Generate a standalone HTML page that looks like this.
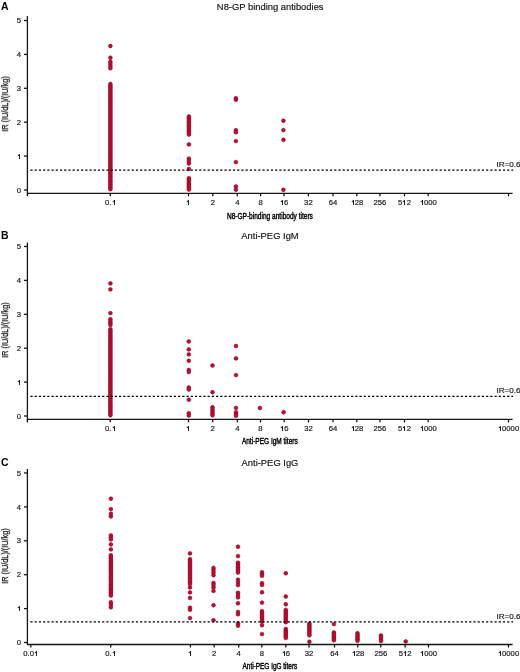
<!DOCTYPE html>
<html><head><meta charset="utf-8"><style>
text{will-change:transform}
html,body{margin:0;padding:0;background:#fff;width:520px;height:672px;overflow:hidden;position:relative}
</style></head><body>
<svg width="520" height="672" viewBox="0 0 520 672" style="position:absolute;left:0;top:0">
<text x="0.9" y="9.6" font-family='"Liberation Sans", sans-serif' font-weight="bold" font-size="10.5" fill="#000">A</text>
<text x="270.2" y="9.8" text-anchor="middle" font-family='"Liberation Sans", sans-serif' font-size="9.4" fill="#111" stroke="#111" stroke-width="0.15">N8-GP binding antibodies</text>
<g fill="#bd0f33" stroke="#860a24" stroke-width="0.5">
<circle cx="110.4" cy="46" r="1.95"/>
<circle cx="110.4" cy="57.7" r="1.95"/>
<circle cx="110.4" cy="61.8" r="1.95"/>
<circle cx="110.4" cy="63.8" r="1.95"/>
<circle cx="110.4" cy="66" r="1.95"/>
<circle cx="110.4" cy="68.2" r="1.95"/>
<circle cx="110.4" cy="84" r="1.95"/>
<circle cx="110.4" cy="85.59" r="1.95"/>
<circle cx="110.4" cy="87.19" r="1.95"/>
<circle cx="110.4" cy="88.78" r="1.95"/>
<circle cx="110.4" cy="90.38" r="1.95"/>
<circle cx="110.4" cy="91.97" r="1.95"/>
<circle cx="110.4" cy="93.56" r="1.95"/>
<circle cx="110.4" cy="95.16" r="1.95"/>
<circle cx="110.4" cy="96.75" r="1.95"/>
<circle cx="110.4" cy="98.35" r="1.95"/>
<circle cx="110.4" cy="99.94" r="1.95"/>
<circle cx="110.4" cy="101.53" r="1.95"/>
<circle cx="110.4" cy="103.13" r="1.95"/>
<circle cx="110.4" cy="104.72" r="1.95"/>
<circle cx="110.4" cy="106.32" r="1.95"/>
<circle cx="110.4" cy="107.91" r="1.95"/>
<circle cx="110.4" cy="109.5" r="1.95"/>
<circle cx="110.4" cy="111.1" r="1.95"/>
<circle cx="110.4" cy="112.69" r="1.95"/>
<circle cx="110.4" cy="114.28" r="1.95"/>
<circle cx="110.4" cy="115.88" r="1.95"/>
<circle cx="110.4" cy="117.47" r="1.95"/>
<circle cx="110.4" cy="119.07" r="1.95"/>
<circle cx="110.4" cy="120.66" r="1.95"/>
<circle cx="110.4" cy="122.25" r="1.95"/>
<circle cx="110.4" cy="123.85" r="1.95"/>
<circle cx="110.4" cy="125.44" r="1.95"/>
<circle cx="110.4" cy="127.04" r="1.95"/>
<circle cx="110.4" cy="128.63" r="1.95"/>
<circle cx="110.4" cy="130.22" r="1.95"/>
<circle cx="110.4" cy="131.82" r="1.95"/>
<circle cx="110.4" cy="133.41" r="1.95"/>
<circle cx="110.4" cy="135.01" r="1.95"/>
<circle cx="110.4" cy="136.6" r="1.95"/>
<circle cx="110.4" cy="138.19" r="1.95"/>
<circle cx="110.4" cy="139.79" r="1.95"/>
<circle cx="110.4" cy="141.38" r="1.95"/>
<circle cx="110.4" cy="142.98" r="1.95"/>
<circle cx="110.4" cy="144.57" r="1.95"/>
<circle cx="110.4" cy="146.16" r="1.95"/>
<circle cx="110.4" cy="147.76" r="1.95"/>
<circle cx="110.4" cy="149.35" r="1.95"/>
<circle cx="110.4" cy="150.95" r="1.95"/>
<circle cx="110.4" cy="152.54" r="1.95"/>
<circle cx="110.4" cy="154.13" r="1.95"/>
<circle cx="110.4" cy="155.73" r="1.95"/>
<circle cx="110.4" cy="157.32" r="1.95"/>
<circle cx="110.4" cy="158.92" r="1.95"/>
<circle cx="110.4" cy="160.51" r="1.95"/>
<circle cx="110.4" cy="162.1" r="1.95"/>
<circle cx="110.4" cy="163.7" r="1.95"/>
<circle cx="110.4" cy="165.29" r="1.95"/>
<circle cx="110.4" cy="166.88" r="1.95"/>
<circle cx="110.4" cy="168.48" r="1.95"/>
<circle cx="110.4" cy="170.07" r="1.95"/>
<circle cx="110.4" cy="171.67" r="1.95"/>
<circle cx="110.4" cy="173.26" r="1.95"/>
<circle cx="110.4" cy="174.85" r="1.95"/>
<circle cx="110.4" cy="176.45" r="1.95"/>
<circle cx="110.4" cy="178.04" r="1.95"/>
<circle cx="110.4" cy="179.64" r="1.95"/>
<circle cx="110.4" cy="181.23" r="1.95"/>
<circle cx="110.4" cy="182.82" r="1.95"/>
<circle cx="110.4" cy="184.42" r="1.95"/>
<circle cx="110.4" cy="186.01" r="1.95"/>
<circle cx="110.4" cy="187.61" r="1.95"/>
<circle cx="110.4" cy="189.2" r="1.95"/>
<circle cx="188.9" cy="116.5" r="1.95"/>
<circle cx="188.9" cy="118.15" r="1.95"/>
<circle cx="188.9" cy="119.79" r="1.95"/>
<circle cx="188.9" cy="121.44" r="1.95"/>
<circle cx="188.9" cy="123.08" r="1.95"/>
<circle cx="188.9" cy="124.73" r="1.95"/>
<circle cx="188.9" cy="126.37" r="1.95"/>
<circle cx="188.9" cy="128.02" r="1.95"/>
<circle cx="188.9" cy="129.66" r="1.95"/>
<circle cx="188.9" cy="131.31" r="1.95"/>
<circle cx="188.9" cy="132.95" r="1.95"/>
<circle cx="188.9" cy="134.6" r="1.95"/>
<circle cx="188.9" cy="144.4" r="1.95"/>
<circle cx="188.9" cy="158.6" r="1.95"/>
<circle cx="188.9" cy="161" r="1.95"/>
<circle cx="188.9" cy="163.5" r="1.95"/>
<circle cx="188.9" cy="169" r="1.95"/>
<circle cx="188.9" cy="178.3" r="1.95"/>
<circle cx="188.9" cy="179.91" r="1.95"/>
<circle cx="188.9" cy="181.53" r="1.95"/>
<circle cx="188.9" cy="183.14" r="1.95"/>
<circle cx="188.9" cy="184.76" r="1.95"/>
<circle cx="188.9" cy="186.37" r="1.95"/>
<circle cx="188.9" cy="187.99" r="1.95"/>
<circle cx="188.9" cy="189.6" r="1.95"/>
<circle cx="235.9" cy="98.2" r="1.95"/>
<circle cx="235.9" cy="99.8" r="1.95"/>
<circle cx="235.9" cy="130.2" r="1.95"/>
<circle cx="235.9" cy="132.2" r="1.95"/>
<circle cx="235.9" cy="141.1" r="1.95"/>
<circle cx="235.9" cy="162.1" r="1.95"/>
<circle cx="235.9" cy="186.5" r="1.95"/>
<circle cx="235.9" cy="189.7" r="1.95"/>
<circle cx="283.4" cy="120.7" r="1.95"/>
<circle cx="283.4" cy="130.1" r="1.95"/>
<circle cx="283.4" cy="139.8" r="1.95"/>
<circle cx="283.4" cy="189.8" r="1.95"/>
</g>
<g stroke="#151515" stroke-width="1.3" fill="none">
<line x1="27.4" y1="16" x2="27.4" y2="193.9"/>
<line x1="27.4" y1="193.3" x2="512.6" y2="193.3"/>
<line x1="24" y1="190" x2="27.4" y2="190"/>
<line x1="24" y1="156.1" x2="27.4" y2="156.1"/>
<line x1="24" y1="122.2" x2="27.4" y2="122.2"/>
<line x1="24" y1="88.3" x2="27.4" y2="88.3"/>
<line x1="24" y1="54.4" x2="27.4" y2="54.4"/>
<line x1="24" y1="20.5" x2="27.4" y2="20.5"/>
<line x1="110.3" y1="193.3" x2="110.3" y2="196.3"/>
<line x1="188.5" y1="193.3" x2="188.5" y2="196.3"/>
<line x1="212.8" y1="193.3" x2="212.8" y2="196.3"/>
<line x1="237.3" y1="193.3" x2="237.3" y2="196.3"/>
<line x1="260.6" y1="193.3" x2="260.6" y2="196.3"/>
<line x1="284.0" y1="193.3" x2="284.0" y2="196.3"/>
<line x1="308.4" y1="193.3" x2="308.4" y2="196.3"/>
<line x1="333.0" y1="193.3" x2="333.0" y2="196.3"/>
<line x1="356.8" y1="193.3" x2="356.8" y2="196.3"/>
<line x1="379.9" y1="193.3" x2="379.9" y2="196.3"/>
<line x1="404.5" y1="193.3" x2="404.5" y2="196.3"/>
<line x1="428.2" y1="193.3" x2="428.2" y2="196.3"/>
<line x1="508.5" y1="193.3" x2="508.5" y2="196.3"/>
<line x1="27.4" y1="193.3" x2="27.4" y2="196.3"/>
</g>
<line x1="30.4" y1="170.15" x2="513.2" y2="170.15" stroke="#000" stroke-width="1.35" stroke-dasharray="2.2 2.019"/>
<text x="496.5" y="166.85" font-family='"Liberation Sans", sans-serif' font-size="8.1" fill="#222" stroke="#222" stroke-width="0.2">IR=0.6</text>
<text x="16.82" y="192.60" font-family='"Liberation Sans", sans-serif' font-size="7.7" fill="#222" stroke="#222" stroke-width="0.2">0</text>
<text x="16.82" y="158.70" font-family='"Liberation Sans", sans-serif' font-size="7.7" fill="#222" stroke="#222" stroke-width="0.2"> </text>
<path d="M19.50 154V159M19.80 154.40L17.80 155.90" fill="none" stroke="#222" stroke-width="1.05"/>
<text x="16.82" y="124.80" font-family='"Liberation Sans", sans-serif' font-size="7.7" fill="#222" stroke="#222" stroke-width="0.2">2</text>
<text x="16.82" y="90.90" font-family='"Liberation Sans", sans-serif' font-size="7.7" fill="#222" stroke="#222" stroke-width="0.2">3</text>
<text x="16.82" y="57.00" font-family='"Liberation Sans", sans-serif' font-size="7.7" fill="#222" stroke="#222" stroke-width="0.2">4</text>
<text x="16.82" y="23.10" font-family='"Liberation Sans", sans-serif' font-size="7.7" fill="#222" stroke="#222" stroke-width="0.2">5</text>
<text x="104.95" y="205.10" font-family='"Liberation Sans", sans-serif' font-size="7.7" fill="#222" stroke="#222" stroke-width="0.2">0. </text>
<path d="M114.50 200V205M114.80 200.40L112.80 201.90" fill="none" stroke="#222" stroke-width="1.05"/>
<text x="186.36" y="205.10" font-family='"Liberation Sans", sans-serif' font-size="7.7" fill="#222" stroke="#222" stroke-width="0.2"> </text>
<path d="M188.50 200V205M188.80 200.40L186.80 201.90" fill="none" stroke="#222" stroke-width="1.05"/>
<text x="210.66" y="205.10" font-family='"Liberation Sans", sans-serif' font-size="7.7" fill="#222" stroke="#222" stroke-width="0.2">2</text>
<text x="235.16" y="205.10" font-family='"Liberation Sans", sans-serif' font-size="7.7" fill="#222" stroke="#222" stroke-width="0.2">4</text>
<text x="258.46" y="205.10" font-family='"Liberation Sans", sans-serif' font-size="7.7" fill="#222" stroke="#222" stroke-width="0.2">8</text>
<text x="279.72" y="205.10" font-family='"Liberation Sans", sans-serif' font-size="7.7" fill="#222" stroke="#222" stroke-width="0.2"> 6</text>
<path d="M282.50 200V205M282.80 200.40L280.80 201.90" fill="none" stroke="#222" stroke-width="1.05"/>
<text x="304.12" y="205.10" font-family='"Liberation Sans", sans-serif' font-size="7.7" fill="#222" stroke="#222" stroke-width="0.2">32</text>
<text x="328.72" y="205.10" font-family='"Liberation Sans", sans-serif' font-size="7.7" fill="#222" stroke="#222" stroke-width="0.2">64</text>
<text x="350.38" y="205.10" font-family='"Liberation Sans", sans-serif' font-size="7.7" fill="#222" stroke="#222" stroke-width="0.2"> 28</text>
<path d="M353.50 200V205M353.80 200.40L351.80 201.90" fill="none" stroke="#222" stroke-width="1.05"/>
<text x="373.48" y="205.10" font-family='"Liberation Sans", sans-serif' font-size="7.7" fill="#222" stroke="#222" stroke-width="0.2">256</text>
<text x="398.08" y="205.10" font-family='"Liberation Sans", sans-serif' font-size="7.7" fill="#222" stroke="#222" stroke-width="0.2">5 2</text>
<path d="M404.50 200V205M404.80 200.40L402.80 201.90" fill="none" stroke="#222" stroke-width="1.05"/>
<text x="419.64" y="205.10" font-family='"Liberation Sans", sans-serif' font-size="7.7" fill="#222" stroke="#222" stroke-width="0.2"> 000</text>
<path d="M422.50 200V205M422.80 200.40L420.80 201.90" fill="none" stroke="#222" stroke-width="1.05"/>
<text x="269.9" y="218.6" text-anchor="middle" font-family='"Liberation Sans", sans-serif' font-size="9.5" font-weight="normal" fill="#000" stroke="#000" stroke-width="0.45" textLength="85.99999999999997" lengthAdjust="spacingAndGlyphs">N8-GP-binding antibody titers</text>
<text x="0" y="0" transform="translate(8.0 103.85) rotate(-90)" text-anchor="middle" font-family='"Liberation Sans", sans-serif' font-size="9" font-weight="normal" fill="#111" stroke="#111" stroke-width="0.25" textLength="55.5" lengthAdjust="spacingAndGlyphs">IR (IU/dL)/(IU/kg)</text>
<text x="0.9" y="239.3" font-family='"Liberation Sans", sans-serif' font-weight="bold" font-size="10.5" fill="#000">B</text>
<text x="270.0" y="239.1" text-anchor="middle" font-family='"Liberation Sans", sans-serif' font-size="9.4" fill="#111" stroke="#111" stroke-width="0.15">Anti-PEG IgM</text>
<g fill="#bd0f33" stroke="#860a24" stroke-width="0.5">
<circle cx="110.4" cy="283.4" r="1.95"/>
<circle cx="110.4" cy="289.4" r="1.95"/>
<circle cx="110.4" cy="313.1" r="1.95"/>
<circle cx="110.4" cy="319.2" r="1.95"/>
<circle cx="110.4" cy="321.2" r="1.95"/>
<circle cx="110.4" cy="323.2" r="1.95"/>
<circle cx="110.4" cy="325" r="1.95"/>
<circle cx="110.4" cy="329.3" r="1.95"/>
<circle cx="110.4" cy="330.89" r="1.95"/>
<circle cx="110.4" cy="332.49" r="1.95"/>
<circle cx="110.4" cy="334.08" r="1.95"/>
<circle cx="110.4" cy="335.67" r="1.95"/>
<circle cx="110.4" cy="337.26" r="1.95"/>
<circle cx="110.4" cy="338.86" r="1.95"/>
<circle cx="110.4" cy="340.45" r="1.95"/>
<circle cx="110.4" cy="342.04" r="1.95"/>
<circle cx="110.4" cy="343.63" r="1.95"/>
<circle cx="110.4" cy="345.23" r="1.95"/>
<circle cx="110.4" cy="346.82" r="1.95"/>
<circle cx="110.4" cy="348.41" r="1.95"/>
<circle cx="110.4" cy="350" r="1.95"/>
<circle cx="110.4" cy="351.6" r="1.95"/>
<circle cx="110.4" cy="353.19" r="1.95"/>
<circle cx="110.4" cy="354.78" r="1.95"/>
<circle cx="110.4" cy="356.37" r="1.95"/>
<circle cx="110.4" cy="357.97" r="1.95"/>
<circle cx="110.4" cy="359.56" r="1.95"/>
<circle cx="110.4" cy="361.15" r="1.95"/>
<circle cx="110.4" cy="362.74" r="1.95"/>
<circle cx="110.4" cy="364.34" r="1.95"/>
<circle cx="110.4" cy="365.93" r="1.95"/>
<circle cx="110.4" cy="367.52" r="1.95"/>
<circle cx="110.4" cy="369.11" r="1.95"/>
<circle cx="110.4" cy="370.71" r="1.95"/>
<circle cx="110.4" cy="372.3" r="1.95"/>
<circle cx="110.4" cy="373.89" r="1.95"/>
<circle cx="110.4" cy="375.49" r="1.95"/>
<circle cx="110.4" cy="377.08" r="1.95"/>
<circle cx="110.4" cy="378.67" r="1.95"/>
<circle cx="110.4" cy="380.26" r="1.95"/>
<circle cx="110.4" cy="381.86" r="1.95"/>
<circle cx="110.4" cy="383.45" r="1.95"/>
<circle cx="110.4" cy="385.04" r="1.95"/>
<circle cx="110.4" cy="386.63" r="1.95"/>
<circle cx="110.4" cy="388.23" r="1.95"/>
<circle cx="110.4" cy="389.82" r="1.95"/>
<circle cx="110.4" cy="391.41" r="1.95"/>
<circle cx="110.4" cy="393" r="1.95"/>
<circle cx="110.4" cy="394.6" r="1.95"/>
<circle cx="110.4" cy="396.19" r="1.95"/>
<circle cx="110.4" cy="397.78" r="1.95"/>
<circle cx="110.4" cy="399.37" r="1.95"/>
<circle cx="110.4" cy="400.97" r="1.95"/>
<circle cx="110.4" cy="402.56" r="1.95"/>
<circle cx="110.4" cy="404.15" r="1.95"/>
<circle cx="110.4" cy="405.74" r="1.95"/>
<circle cx="110.4" cy="407.34" r="1.95"/>
<circle cx="110.4" cy="408.93" r="1.95"/>
<circle cx="110.4" cy="410.52" r="1.95"/>
<circle cx="110.4" cy="412.11" r="1.95"/>
<circle cx="110.4" cy="413.71" r="1.95"/>
<circle cx="110.4" cy="415.3" r="1.95"/>
<circle cx="188.8" cy="341.5" r="1.95"/>
<circle cx="188.8" cy="349.4" r="1.95"/>
<circle cx="188.8" cy="354.4" r="1.95"/>
<circle cx="188.8" cy="360.8" r="1.95"/>
<circle cx="188.8" cy="370" r="1.95"/>
<circle cx="188.8" cy="372" r="1.95"/>
<circle cx="188.8" cy="387.5" r="1.95"/>
<circle cx="188.8" cy="389.5" r="1.95"/>
<circle cx="188.8" cy="399.7" r="1.95"/>
<circle cx="188.8" cy="413.3" r="1.95"/>
<circle cx="188.8" cy="415.5" r="1.95"/>
<circle cx="212.5" cy="365.5" r="1.95"/>
<circle cx="212.5" cy="392.2" r="1.95"/>
<circle cx="212.5" cy="407.3" r="1.95"/>
<circle cx="212.5" cy="409.5" r="1.95"/>
<circle cx="212.5" cy="411.5" r="1.95"/>
<circle cx="212.5" cy="413.5" r="1.95"/>
<circle cx="212.5" cy="415.3" r="1.95"/>
<circle cx="236" cy="346" r="1.95"/>
<circle cx="236" cy="358.4" r="1.95"/>
<circle cx="236" cy="375.1" r="1.95"/>
<circle cx="236" cy="407.9" r="1.95"/>
<circle cx="236" cy="412.3" r="1.95"/>
<circle cx="236" cy="414" r="1.95"/>
<circle cx="236" cy="415.7" r="1.95"/>
<circle cx="259.9" cy="408" r="1.95"/>
<circle cx="283.6" cy="412.3" r="1.95"/>
</g>
<g stroke="#151515" stroke-width="1.3" fill="none">
<line x1="27.4" y1="242.5" x2="27.4" y2="419.95000000000005"/>
<line x1="27.4" y1="419.35" x2="512.6" y2="419.35"/>
<line x1="24" y1="416" x2="27.4" y2="416"/>
<line x1="24" y1="382.1" x2="27.4" y2="382.1"/>
<line x1="24" y1="348.2" x2="27.4" y2="348.2"/>
<line x1="24" y1="314.3" x2="27.4" y2="314.3"/>
<line x1="24" y1="280.4" x2="27.4" y2="280.4"/>
<line x1="24" y1="246.5" x2="27.4" y2="246.5"/>
<line x1="110.3" y1="419.35" x2="110.3" y2="422.35"/>
<line x1="188.5" y1="419.35" x2="188.5" y2="422.35"/>
<line x1="212.7" y1="419.35" x2="212.7" y2="422.35"/>
<line x1="237.4" y1="419.35" x2="237.4" y2="422.35"/>
<line x1="260.5" y1="419.35" x2="260.5" y2="422.35"/>
<line x1="284.2" y1="419.35" x2="284.2" y2="422.35"/>
<line x1="308.5" y1="419.35" x2="308.5" y2="422.35"/>
<line x1="333.0" y1="419.35" x2="333.0" y2="422.35"/>
<line x1="356.8" y1="419.35" x2="356.8" y2="422.35"/>
<line x1="379.9" y1="419.35" x2="379.9" y2="422.35"/>
<line x1="404.5" y1="419.35" x2="404.5" y2="422.35"/>
<line x1="428.2" y1="419.35" x2="428.2" y2="422.35"/>
<line x1="508.5" y1="419.35" x2="508.5" y2="422.35"/>
<line x1="27.4" y1="419.35" x2="27.4" y2="422.35"/>
</g>
<line x1="30.4" y1="396.4" x2="513.2" y2="396.4" stroke="#000" stroke-width="1.35" stroke-dasharray="2.2 2.019"/>
<text x="496.5" y="393.09999999999997" font-family='"Liberation Sans", sans-serif' font-size="8.1" fill="#222" stroke="#222" stroke-width="0.2">IR=0.6</text>
<text x="16.82" y="418.60" font-family='"Liberation Sans", sans-serif' font-size="7.7" fill="#222" stroke="#222" stroke-width="0.2">0</text>
<text x="16.82" y="384.70" font-family='"Liberation Sans", sans-serif' font-size="7.7" fill="#222" stroke="#222" stroke-width="0.2"> </text>
<path d="M19.50 380V385M19.80 380.40L17.80 381.90" fill="none" stroke="#222" stroke-width="1.05"/>
<text x="16.82" y="350.80" font-family='"Liberation Sans", sans-serif' font-size="7.7" fill="#222" stroke="#222" stroke-width="0.2">2</text>
<text x="16.82" y="316.90" font-family='"Liberation Sans", sans-serif' font-size="7.7" fill="#222" stroke="#222" stroke-width="0.2">3</text>
<text x="16.82" y="283.00" font-family='"Liberation Sans", sans-serif' font-size="7.7" fill="#222" stroke="#222" stroke-width="0.2">4</text>
<text x="16.82" y="249.10" font-family='"Liberation Sans", sans-serif' font-size="7.7" fill="#222" stroke="#222" stroke-width="0.2">5</text>
<text x="104.95" y="431.15" font-family='"Liberation Sans", sans-serif' font-size="7.7" fill="#222" stroke="#222" stroke-width="0.2">0. </text>
<path d="M114.50 426V431M114.80 426.40L112.80 427.90" fill="none" stroke="#222" stroke-width="1.05"/>
<text x="186.36" y="431.15" font-family='"Liberation Sans", sans-serif' font-size="7.7" fill="#222" stroke="#222" stroke-width="0.2"> </text>
<path d="M188.50 426V431M188.80 426.40L186.80 427.90" fill="none" stroke="#222" stroke-width="1.05"/>
<text x="210.56" y="431.15" font-family='"Liberation Sans", sans-serif' font-size="7.7" fill="#222" stroke="#222" stroke-width="0.2">2</text>
<text x="235.26" y="431.15" font-family='"Liberation Sans", sans-serif' font-size="7.7" fill="#222" stroke="#222" stroke-width="0.2">4</text>
<text x="258.36" y="431.15" font-family='"Liberation Sans", sans-serif' font-size="7.7" fill="#222" stroke="#222" stroke-width="0.2">8</text>
<text x="279.92" y="431.15" font-family='"Liberation Sans", sans-serif' font-size="7.7" fill="#222" stroke="#222" stroke-width="0.2"> 6</text>
<path d="M282.50 426V431M282.80 426.40L280.80 427.90" fill="none" stroke="#222" stroke-width="1.05"/>
<text x="304.22" y="431.15" font-family='"Liberation Sans", sans-serif' font-size="7.7" fill="#222" stroke="#222" stroke-width="0.2">32</text>
<text x="328.72" y="431.15" font-family='"Liberation Sans", sans-serif' font-size="7.7" fill="#222" stroke="#222" stroke-width="0.2">64</text>
<text x="350.38" y="431.15" font-family='"Liberation Sans", sans-serif' font-size="7.7" fill="#222" stroke="#222" stroke-width="0.2"> 28</text>
<path d="M353.50 426V431M353.80 426.40L351.80 427.90" fill="none" stroke="#222" stroke-width="1.05"/>
<text x="373.48" y="431.15" font-family='"Liberation Sans", sans-serif' font-size="7.7" fill="#222" stroke="#222" stroke-width="0.2">256</text>
<text x="398.08" y="431.15" font-family='"Liberation Sans", sans-serif' font-size="7.7" fill="#222" stroke="#222" stroke-width="0.2">5 2</text>
<path d="M404.50 426V431M404.80 426.40L402.80 427.90" fill="none" stroke="#222" stroke-width="1.05"/>
<text x="419.64" y="431.15" font-family='"Liberation Sans", sans-serif' font-size="7.7" fill="#222" stroke="#222" stroke-width="0.2"> 000</text>
<path d="M422.50 426V431M422.80 426.40L420.80 427.90" fill="none" stroke="#222" stroke-width="1.05"/>
<text x="497.79" y="431.15" font-family='"Liberation Sans", sans-serif' font-size="7.7" fill="#222" stroke="#222" stroke-width="0.2"> 0000</text>
<path d="M500.50 426V431M500.80 426.40L498.80 427.90" fill="none" stroke="#222" stroke-width="1.05"/>
<text x="269.8" y="444.3" text-anchor="middle" font-family='"Liberation Sans", sans-serif' font-size="9.5" font-weight="normal" fill="#000" stroke="#000" stroke-width="0.45" textLength="55.79999999999998" lengthAdjust="spacingAndGlyphs">Anti-PEG IgM titers</text>
<text x="0" y="0" transform="translate(8.0 330.12) rotate(-90)" text-anchor="middle" font-family='"Liberation Sans", sans-serif' font-size="9" font-weight="normal" fill="#111" stroke="#111" stroke-width="0.25" textLength="55.5" lengthAdjust="spacingAndGlyphs">IR (IU/dL)/(IU/kg)</text>
<text x="0.9" y="465.6" font-family='"Liberation Sans", sans-serif' font-weight="bold" font-size="10.5" fill="#000">C</text>
<text x="270.0" y="465.5" text-anchor="middle" font-family='"Liberation Sans", sans-serif' font-size="9.4" fill="#111" stroke="#111" stroke-width="0.15">Anti-PEG IgG</text>
<g fill="#bd0f33" stroke="#860a24" stroke-width="0.5">
<circle cx="110.9" cy="498.7" r="1.95"/>
<circle cx="110.9" cy="509.1" r="1.95"/>
<circle cx="110.9" cy="513.7" r="1.95"/>
<circle cx="110.9" cy="516.4" r="1.95"/>
<circle cx="110.9" cy="535.4" r="1.95"/>
<circle cx="110.9" cy="537.4" r="1.95"/>
<circle cx="110.9" cy="539.4" r="1.95"/>
<circle cx="110.9" cy="544.4" r="1.95"/>
<circle cx="110.9" cy="549.4" r="1.95"/>
<circle cx="110.9" cy="555.3" r="1.95"/>
<circle cx="110.9" cy="556.91" r="1.95"/>
<circle cx="110.9" cy="558.52" r="1.95"/>
<circle cx="110.9" cy="560.14" r="1.95"/>
<circle cx="110.9" cy="561.75" r="1.95"/>
<circle cx="110.9" cy="563.36" r="1.95"/>
<circle cx="110.9" cy="564.97" r="1.95"/>
<circle cx="110.9" cy="566.58" r="1.95"/>
<circle cx="110.9" cy="568.2" r="1.95"/>
<circle cx="110.9" cy="569.81" r="1.95"/>
<circle cx="110.9" cy="571.42" r="1.95"/>
<circle cx="110.9" cy="573.03" r="1.95"/>
<circle cx="110.9" cy="574.64" r="1.95"/>
<circle cx="110.9" cy="576.26" r="1.95"/>
<circle cx="110.9" cy="577.87" r="1.95"/>
<circle cx="110.9" cy="579.48" r="1.95"/>
<circle cx="110.9" cy="581.09" r="1.95"/>
<circle cx="110.9" cy="582.7" r="1.95"/>
<circle cx="110.9" cy="584.32" r="1.95"/>
<circle cx="110.9" cy="585.93" r="1.95"/>
<circle cx="110.9" cy="587.54" r="1.95"/>
<circle cx="110.9" cy="589.15" r="1.95"/>
<circle cx="110.9" cy="590.76" r="1.95"/>
<circle cx="110.9" cy="592.38" r="1.95"/>
<circle cx="110.9" cy="593.99" r="1.95"/>
<circle cx="110.9" cy="595.6" r="1.95"/>
<circle cx="110.9" cy="602.3" r="1.95"/>
<circle cx="110.9" cy="604.5" r="1.95"/>
<circle cx="110.9" cy="607.3" r="1.95"/>
<circle cx="190" cy="553.4" r="1.95"/>
<circle cx="190" cy="559.2" r="1.95"/>
<circle cx="190" cy="560.85" r="1.95"/>
<circle cx="190" cy="562.51" r="1.95"/>
<circle cx="190" cy="564.16" r="1.95"/>
<circle cx="190" cy="565.81" r="1.95"/>
<circle cx="190" cy="567.47" r="1.95"/>
<circle cx="190" cy="569.12" r="1.95"/>
<circle cx="190" cy="570.77" r="1.95"/>
<circle cx="190" cy="572.43" r="1.95"/>
<circle cx="190" cy="574.08" r="1.95"/>
<circle cx="190" cy="575.73" r="1.95"/>
<circle cx="190" cy="577.39" r="1.95"/>
<circle cx="190" cy="579.04" r="1.95"/>
<circle cx="190" cy="580.69" r="1.95"/>
<circle cx="190" cy="582.35" r="1.95"/>
<circle cx="190" cy="584" r="1.95"/>
<circle cx="190" cy="587.4" r="1.95"/>
<circle cx="190" cy="592.4" r="1.95"/>
<circle cx="190" cy="597.9" r="1.95"/>
<circle cx="190" cy="607.7" r="1.95"/>
<circle cx="190" cy="609.7" r="1.95"/>
<circle cx="190" cy="618.1" r="1.95"/>
<circle cx="213.5" cy="567.9" r="1.95"/>
<circle cx="213.5" cy="570" r="1.95"/>
<circle cx="213.5" cy="572.5" r="1.95"/>
<circle cx="213.5" cy="575.2" r="1.95"/>
<circle cx="213.5" cy="582.9" r="1.95"/>
<circle cx="213.5" cy="585" r="1.95"/>
<circle cx="213.5" cy="587.5" r="1.95"/>
<circle cx="213.5" cy="590.9" r="1.95"/>
<circle cx="213.5" cy="605.2" r="1.95"/>
<circle cx="213.5" cy="620.2" r="1.95"/>
<circle cx="238" cy="546.7" r="1.95"/>
<circle cx="238" cy="556.1" r="1.95"/>
<circle cx="238" cy="562.6" r="1.95"/>
<circle cx="238" cy="564.27" r="1.95"/>
<circle cx="238" cy="565.93" r="1.95"/>
<circle cx="238" cy="567.6" r="1.95"/>
<circle cx="238" cy="569.27" r="1.95"/>
<circle cx="238" cy="570.93" r="1.95"/>
<circle cx="238" cy="572.6" r="1.95"/>
<circle cx="238" cy="579.7" r="1.95"/>
<circle cx="238" cy="582.4" r="1.95"/>
<circle cx="238" cy="585.1" r="1.95"/>
<circle cx="238" cy="592.8" r="1.95"/>
<circle cx="238" cy="595" r="1.95"/>
<circle cx="238" cy="597.4" r="1.95"/>
<circle cx="238" cy="603.3" r="1.95"/>
<circle cx="238" cy="612" r="1.95"/>
<circle cx="238" cy="614.2" r="1.95"/>
<circle cx="238" cy="623.5" r="1.95"/>
<circle cx="238" cy="625.7" r="1.95"/>
<circle cx="262" cy="572.2" r="1.95"/>
<circle cx="262" cy="574" r="1.95"/>
<circle cx="262" cy="575.8" r="1.95"/>
<circle cx="262" cy="583.2" r="1.95"/>
<circle cx="262" cy="584.9" r="1.95"/>
<circle cx="262" cy="592.3" r="1.95"/>
<circle cx="262" cy="602.6" r="1.95"/>
<circle cx="262" cy="611.2" r="1.95"/>
<circle cx="262" cy="612.92" r="1.95"/>
<circle cx="262" cy="614.63" r="1.95"/>
<circle cx="262" cy="616.35" r="1.95"/>
<circle cx="262" cy="618.07" r="1.95"/>
<circle cx="262" cy="619.78" r="1.95"/>
<circle cx="262" cy="621.5" r="1.95"/>
<circle cx="262" cy="625.2" r="1.95"/>
<circle cx="262" cy="634.1" r="1.95"/>
<circle cx="285.8" cy="573.3" r="1.95"/>
<circle cx="285.8" cy="596.5" r="1.95"/>
<circle cx="285.8" cy="604.3" r="1.95"/>
<circle cx="285.8" cy="609.9" r="1.95"/>
<circle cx="285.8" cy="611.44" r="1.95"/>
<circle cx="285.8" cy="612.98" r="1.95"/>
<circle cx="285.8" cy="614.51" r="1.95"/>
<circle cx="285.8" cy="616.05" r="1.95"/>
<circle cx="285.8" cy="617.59" r="1.95"/>
<circle cx="285.8" cy="619.12" r="1.95"/>
<circle cx="285.8" cy="620.66" r="1.95"/>
<circle cx="285.8" cy="622.2" r="1.95"/>
<circle cx="285.8" cy="629" r="1.95"/>
<circle cx="285.8" cy="630.48" r="1.95"/>
<circle cx="285.8" cy="631.97" r="1.95"/>
<circle cx="285.8" cy="633.45" r="1.95"/>
<circle cx="285.8" cy="634.93" r="1.95"/>
<circle cx="285.8" cy="636.42" r="1.95"/>
<circle cx="285.8" cy="637.9" r="1.95"/>
<circle cx="309.4" cy="623.6" r="1.95"/>
<circle cx="309.4" cy="625.27" r="1.95"/>
<circle cx="309.4" cy="626.94" r="1.95"/>
<circle cx="309.4" cy="628.61" r="1.95"/>
<circle cx="309.4" cy="630.29" r="1.95"/>
<circle cx="309.4" cy="631.96" r="1.95"/>
<circle cx="309.4" cy="633.63" r="1.95"/>
<circle cx="309.4" cy="635.3" r="1.95"/>
<circle cx="309.4" cy="641.8" r="1.95"/>
<circle cx="333.9" cy="624.1" r="1.95"/>
<circle cx="333.9" cy="632.5" r="1.95"/>
<circle cx="333.9" cy="634.06" r="1.95"/>
<circle cx="333.9" cy="635.62" r="1.95"/>
<circle cx="333.9" cy="637.18" r="1.95"/>
<circle cx="333.9" cy="638.74" r="1.95"/>
<circle cx="333.9" cy="640.3" r="1.95"/>
<circle cx="357.5" cy="633.1" r="1.95"/>
<circle cx="357.5" cy="634.64" r="1.95"/>
<circle cx="357.5" cy="636.18" r="1.95"/>
<circle cx="357.5" cy="637.72" r="1.95"/>
<circle cx="357.5" cy="639.26" r="1.95"/>
<circle cx="357.5" cy="640.8" r="1.95"/>
<circle cx="381" cy="635.5" r="1.95"/>
<circle cx="381" cy="637.33" r="1.95"/>
<circle cx="381" cy="639.17" r="1.95"/>
<circle cx="381" cy="641" r="1.95"/>
<circle cx="405.7" cy="641.4" r="1.95"/>
</g>
<g stroke="#151515" stroke-width="1.3" fill="none">
<line x1="27.4" y1="469.0" x2="27.4" y2="645.1"/>
<line x1="27.4" y1="644.5" x2="512.6" y2="644.5"/>
<line x1="24" y1="642.5" x2="27.4" y2="642.5"/>
<line x1="24" y1="608.6" x2="27.4" y2="608.6"/>
<line x1="24" y1="574.7" x2="27.4" y2="574.7"/>
<line x1="24" y1="540.8" x2="27.4" y2="540.8"/>
<line x1="24" y1="506.9" x2="27.4" y2="506.9"/>
<line x1="24" y1="473" x2="27.4" y2="473"/>
<line x1="30.8" y1="644.5" x2="30.8" y2="647.5"/>
<line x1="110.7" y1="644.5" x2="110.7" y2="647.5"/>
<line x1="190.4" y1="644.5" x2="190.4" y2="647.5"/>
<line x1="214.2" y1="644.5" x2="214.2" y2="647.5"/>
<line x1="238.7" y1="644.5" x2="238.7" y2="647.5"/>
<line x1="261.8" y1="644.5" x2="261.8" y2="647.5"/>
<line x1="285.8" y1="644.5" x2="285.8" y2="647.5"/>
<line x1="309.0" y1="644.5" x2="309.0" y2="647.5"/>
<line x1="334.5" y1="644.5" x2="334.5" y2="647.5"/>
<line x1="357.8" y1="644.5" x2="357.8" y2="647.5"/>
<line x1="380.8" y1="644.5" x2="380.8" y2="647.5"/>
<line x1="405.1" y1="644.5" x2="405.1" y2="647.5"/>
<line x1="428.5" y1="644.5" x2="428.5" y2="647.5"/>
<line x1="508.5" y1="644.5" x2="508.5" y2="647.5"/>
</g>
<line x1="30.4" y1="621.8" x2="513.2" y2="621.8" stroke="#000" stroke-width="1.35" stroke-dasharray="2.2 2.019"/>
<text x="496.5" y="618.5" font-family='"Liberation Sans", sans-serif' font-size="8.1" fill="#222" stroke="#222" stroke-width="0.2">IR=0.6</text>
<text x="16.82" y="645.10" font-family='"Liberation Sans", sans-serif' font-size="7.7" fill="#222" stroke="#222" stroke-width="0.2">0</text>
<text x="16.82" y="611.20" font-family='"Liberation Sans", sans-serif' font-size="7.7" fill="#222" stroke="#222" stroke-width="0.2"> </text>
<path d="M19.50 606V611M19.80 606.40L17.80 607.90" fill="none" stroke="#222" stroke-width="1.05"/>
<text x="16.82" y="577.30" font-family='"Liberation Sans", sans-serif' font-size="7.7" fill="#222" stroke="#222" stroke-width="0.2">2</text>
<text x="16.82" y="543.40" font-family='"Liberation Sans", sans-serif' font-size="7.7" fill="#222" stroke="#222" stroke-width="0.2">3</text>
<text x="16.82" y="509.50" font-family='"Liberation Sans", sans-serif' font-size="7.7" fill="#222" stroke="#222" stroke-width="0.2">4</text>
<text x="16.82" y="475.60" font-family='"Liberation Sans", sans-serif' font-size="7.7" fill="#222" stroke="#222" stroke-width="0.2">5</text>
<text x="23.31" y="656.30" font-family='"Liberation Sans", sans-serif' font-size="7.7" fill="#222" stroke="#222" stroke-width="0.2">0.0 </text>
<path d="M36.50 651V656M36.80 651.40L34.80 652.90" fill="none" stroke="#222" stroke-width="1.05"/>
<text x="105.35" y="656.30" font-family='"Liberation Sans", sans-serif' font-size="7.7" fill="#222" stroke="#222" stroke-width="0.2">0. </text>
<path d="M114.50 651V656M114.80 651.40L112.80 652.90" fill="none" stroke="#222" stroke-width="1.05"/>
<text x="188.26" y="656.30" font-family='"Liberation Sans", sans-serif' font-size="7.7" fill="#222" stroke="#222" stroke-width="0.2"> </text>
<path d="M190.50 651V656M190.80 651.40L188.80 652.90" fill="none" stroke="#222" stroke-width="1.05"/>
<text x="212.06" y="656.30" font-family='"Liberation Sans", sans-serif' font-size="7.7" fill="#222" stroke="#222" stroke-width="0.2">2</text>
<text x="236.56" y="656.30" font-family='"Liberation Sans", sans-serif' font-size="7.7" fill="#222" stroke="#222" stroke-width="0.2">4</text>
<text x="259.66" y="656.30" font-family='"Liberation Sans", sans-serif' font-size="7.7" fill="#222" stroke="#222" stroke-width="0.2">8</text>
<text x="281.52" y="656.30" font-family='"Liberation Sans", sans-serif' font-size="7.7" fill="#222" stroke="#222" stroke-width="0.2"> 6</text>
<path d="M284.50 651V656M284.80 651.40L282.80 652.90" fill="none" stroke="#222" stroke-width="1.05"/>
<text x="304.72" y="656.30" font-family='"Liberation Sans", sans-serif' font-size="7.7" fill="#222" stroke="#222" stroke-width="0.2">32</text>
<text x="330.22" y="656.30" font-family='"Liberation Sans", sans-serif' font-size="7.7" fill="#222" stroke="#222" stroke-width="0.2">64</text>
<text x="351.38" y="656.30" font-family='"Liberation Sans", sans-serif' font-size="7.7" fill="#222" stroke="#222" stroke-width="0.2"> 28</text>
<path d="M354.50 651V656M354.80 651.40L352.80 652.90" fill="none" stroke="#222" stroke-width="1.05"/>
<text x="374.38" y="656.30" font-family='"Liberation Sans", sans-serif' font-size="7.7" fill="#222" stroke="#222" stroke-width="0.2">256</text>
<text x="398.68" y="656.30" font-family='"Liberation Sans", sans-serif' font-size="7.7" fill="#222" stroke="#222" stroke-width="0.2">5 2</text>
<path d="M405.50 651V656M405.80 651.40L403.80 652.90" fill="none" stroke="#222" stroke-width="1.05"/>
<text x="419.94" y="656.30" font-family='"Liberation Sans", sans-serif' font-size="7.7" fill="#222" stroke="#222" stroke-width="0.2"> 000</text>
<path d="M422.50 651V656M422.80 651.40L420.80 652.90" fill="none" stroke="#222" stroke-width="1.05"/>
<text x="497.79" y="656.30" font-family='"Liberation Sans", sans-serif' font-size="7.7" fill="#222" stroke="#222" stroke-width="0.2"> 0000</text>
<path d="M500.50 651V656M500.80 651.40L498.80 652.90" fill="none" stroke="#222" stroke-width="1.05"/>
<text x="269.9" y="669.3" text-anchor="middle" font-family='"Liberation Sans", sans-serif' font-size="9.5" font-weight="normal" fill="#000" stroke="#000" stroke-width="0.45" textLength="54.80000000000001" lengthAdjust="spacingAndGlyphs">Anti-PEG IgG titers</text>
<text x="0" y="0" transform="translate(8.0 555.95) rotate(-90)" text-anchor="middle" font-family='"Liberation Sans", sans-serif' font-size="9" font-weight="normal" fill="#111" stroke="#111" stroke-width="0.25" textLength="55.5" lengthAdjust="spacingAndGlyphs">IR (IU/dL)/(IU/kg)</text>
</svg>
</body></html>
